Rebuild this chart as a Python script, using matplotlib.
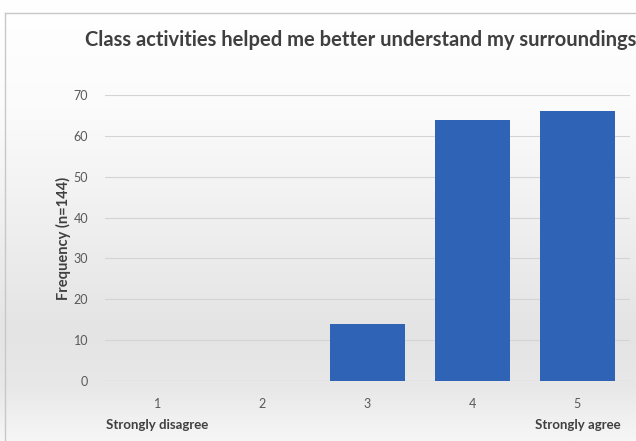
import numpy as np
import matplotlib.pyplot as plt
from matplotlib.colors import LinearSegmentedColormap

# data
categories = ['1', '2', '3', '4', '5']
frequency = [0, 0, 14, 64, 66]
end_labels = ['Strongly disagree', 'Strongly agree']
y_ticks = [0, 10, 20, 30, 40, 50, 60, 70]

plt.rcParams['font.family'] = ['Lato', 'DejaVu Sans']

fig = plt.figure(figsize=(6.36, 4.41), dpi=100)

# soft grey background gradient behind everything
bg = fig.add_axes([0, 0, 1, 1], zorder=-10)
cmap = LinearSegmentedColormap.from_list('bg', [(0.0, '#ffffff'), (0.25, '#fbfbfb'),
                                               (0.75, '#e4e4e4'), (0.88, '#e8e8e8'),
                                               (1.0, '#f6f6f6')])
grad = np.linspace(0, 1, 256).reshape(-1, 1)
bg.imshow(grad, aspect='auto', cmap=cmap, extent=[0, 1, 0, 1], origin='upper')
bg.plot([0.008, 0.008], [0, 0.97], color='#c8c8c8', lw=1)
bg.plot([0.008, 1], [0.97, 0.97], color='#c8c8c8', lw=1)
bg.set_xlim(0, 1)
bg.set_ylim(0, 1)
bg.axis('off')

ax = fig.add_axes([0.165, 0.136, 0.8255, 0.6485])
ax.set_facecolor('none')
x = np.arange(1, len(categories) + 1)
ax.bar(x, frequency, width=0.71, color='#2f63b5', linewidth=0, zorder=3)

ax.set_xlim(0.5, 5.5)
ax.set_ylim(0, 70)
ax.set_yticks(y_ticks)
ax.set_yticklabels([str(v) for v in y_ticks], color='#595959', fontsize=9)
ax.set_xticks(x)
ax.set_xticklabels(categories, color='#595959', fontsize=9)
ax.tick_params(length=0, pad=12)
ax.tick_params(axis='y', pad=12)
ax.grid(axis='y', color='#d4d4d4', lw=0.8, zorder=0)
for s in ax.spines.values():
    s.set_visible(False)
ax.axhline(0, color='#cfcfcf', lw=0.8, zorder=2)

ax.text(1, -0.155, end_labels[0], transform=ax.get_xaxis_transform(), ha='center', va='center',
        fontsize=9.5, fontweight='bold', color='#404040')
ax.text(5, -0.155, end_labels[1], transform=ax.get_xaxis_transform(), ha='center', va='center',
        fontsize=9.5, fontweight='bold', color='#404040')

ax.set_ylabel('Frequency (n=144)', fontsize=10.5, fontweight='bold', color='#404040', labelpad=2)

fig.text(0.567, 0.91, 'Class activities helped me better understand my surroundings',
         ha='center', va='center', fontsize=14.5, fontweight='bold', color='#3f3f3f')

fig.savefig('out.png', dpi=100)
